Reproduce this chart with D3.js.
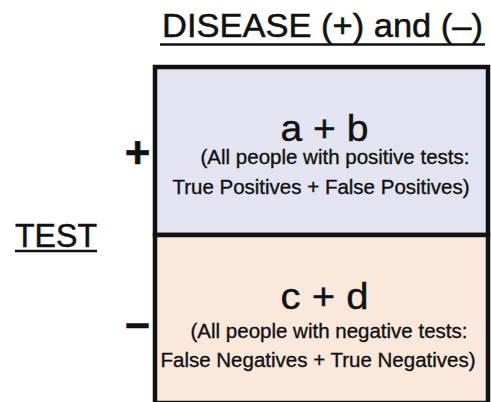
<!DOCTYPE html>
<html>
<head>
<meta charset="utf-8">
<script src="https://cdn.jsdelivr.net/npm/d3@7"></script>
<style>
  html, body { margin: 0; padding: 0; background: #fff; }
  svg { display: block; }
  text { font-family: "Liberation Sans", Arial, Helvetica, sans-serif; fill: #111; stroke: #111; }
</style>
</head>
<body>
<script>
// ---- data ----
const columnTitle = "DISEASE (+) and (–)";
const rowTitle = "TEST";
const rows = ["+", "–"];
const cellTitles = ["a + b", "c + d"];
const cellLine1 = ["(All people with positive tests:", "(All people with negative tests:"];
const cellLine2 = ["True Positives + False Positives)", "False Negatives + True Negatives)"];

// ---- layout ----
const W = 491, H = 402;
const box = { left: 155, right: 488, top: 67, bottom: 403 };
const fills = d3.scaleOrdinal().domain(rows).range(["#e3e4f1", "#fbe8dc"]);

const svg = d3.select("body").append("svg").attr("width", W).attr("height", H);

const y = d3.scaleBand().domain(rows).range([box.top, box.bottom]);
const cx = (box.left + box.right) / 2;

// cells
svg.selectAll("rect.cell").data(rows).join("rect")
  .attr("class", "cell")
  .attr("x", box.left).attr("y", d => y(d))
  .attr("width", box.right - box.left).attr("height", y.bandwidth())
  .attr("fill", d => fills(d))
  .attr("stroke", "#111").attr("stroke-width", 4.5);

// cell titles
svg.selectAll("text.title").data(rows).join("text")
  .attr("class", "title")
  .attr("x", cx + 3).attr("y", d => y(d) + 74)
  .attr("text-anchor", "middle")
  .attr("font-size", 36).attr("stroke-width", 0.4)
  .attr("textLength", 88).attr("lengthAdjust", "spacingAndGlyphs")
  .text((d, i) => cellTitles[i]);

svg.selectAll("text.l1").data(rows).join("text")
  .attr("class", "l1")
  .attr("x", (d, i) => i === 0 ? 335 : 329).attr("y", (d, i) => y(d) + (i === 0 ? 97 : 103))
  .attr("text-anchor", "middle")
  .attr("font-size", 20.5).attr("stroke-width", 0.35)
  .text((d, i) => cellLine1[i]);

svg.selectAll("text.l2").data(rows).join("text")
  .attr("class", "l2")
  .attr("x", (d, i) => i === 0 ? 321 : 318).attr("y", (d, i) => y(d) + (i === 0 ? 127 : 132))
  .attr("text-anchor", "middle")
  .attr("font-size", 20.5).attr("stroke-width", 0.35)
  .text((d, i) => cellLine2[i]);

// row markers
svg.selectAll("text.marker").data(rows).join("text")
  .attr("class", "marker")
  .attr("x", 137.5)
  .attr("y", (d, i) => y(d) + (i === 0 ? 101 : 103))
  .attr("text-anchor", "middle")
  .attr("font-size", 44).attr("font-weight", "bold").attr("stroke-width", 0.5)
  .text(d => d);

// column title
svg.append("text")
  .attr("x", 162).attr("y", 37)
  .attr("font-size", 33).attr("stroke-width", 0.5)
  .attr("textLength", 321).attr("lengthAdjust", "spacingAndGlyphs")
  .text(columnTitle);
svg.append("line").attr("x1", 160).attr("x2", 485).attr("y1", 44.5).attr("y2", 44.5)
  .attr("stroke", "#111").attr("stroke-width", 2.5);

// row title
svg.append("text")
  .attr("x", 15).attr("y", 246.5)
  .attr("font-size", 33).attr("stroke-width", 0.5)
  .attr("textLength", 82).attr("lengthAdjust", "spacingAndGlyphs")
  .text(rowTitle);
svg.append("line").attr("x1", 15).attr("x2", 97).attr("y1", 251).attr("y2", 251)
  .attr("stroke", "#111").attr("stroke-width", 2.5);
</script>
</body>
</html>
